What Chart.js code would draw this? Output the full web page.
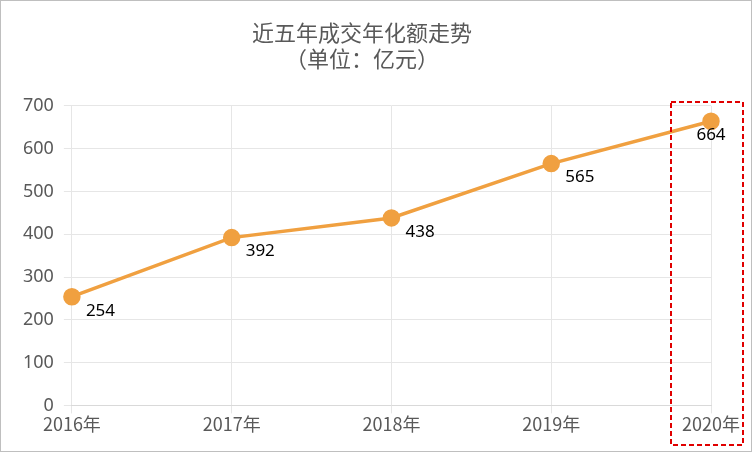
<!DOCTYPE html>
<html><head><meta charset="utf-8">
<script src="https://cdn.jsdelivr.net/npm/chart.js@4"></script>
<style>
body{margin:0;background:#fff}
#wrap{position:absolute;left:0;top:0;width:750px;height:450px;border:1px solid #bfbfbf}
</style></head>
<body><div id="wrap"><canvas id="c" width="750" height="450"></canvas></div>
<script>
const years = ["2016年", "2017年", "2018年", "2019年", "2020年"];
const values = [254, 392, 438, 565, 664];
const yTicks = [0, 100, 200, 300, 400, 500, 600, 700];

const labelPlugin = {
  id: "labels",
  afterDatasetsDraw(chart) {
    const ctx = chart.ctx;
    const meta = chart.getDatasetMeta(0);
    ctx.save();
    ctx.font = "17px 'Noto Sans', sans-serif";
    ctx.fillStyle = "#000";
    ctx.textBaseline = "middle";
    meta.data.forEach((p, i) => {
      const last = i === meta.data.length - 1;
      ctx.textAlign = last ? "center" : "left";
      ctx.fillText(values[i], last ? p.x : p.x + 14, p.y + 14);
    });
    const x = chart.scales.x.getPixelForValue(4);
    ctx.strokeStyle = "#e00000";
    ctx.lineWidth = 2;
    ctx.setLineDash([5, 3]);
    ctx.strokeRect(x - 40, 101, 72, 343);
    ctx.restore();
  }
};

new Chart(document.getElementById("c"), {
  type: "line",
  data: {
    labels: years,
    datasets: [{
      data: values,
      borderColor: "#f0a040",
      backgroundColor: "#f0a040",
      borderWidth: 3.5,
      pointRadius: 7,
      pointHoverRadius: 7,
      tension: 0
    }]
  },
  options: {
    responsive: false,
    animation: false,
    layout: { padding: { left: 12, right: 40, top: 4, bottom: 16 } },
    plugins: {
      legend: { display: false },
      tooltip: { enabled: false },
      title: {
        display: true,
        text: ["近五年成交年化额走势", "（单位：亿元）"],
        color: "#595959",
        font: { size: 22, family: "'Noto Sans CJK SC', sans-serif", weight: "normal", lineHeight: 1.2 },
        padding: { top: 14, bottom: 34 }
      }
    },
    scales: {
      x: {
        offset: false,
        grid: { color: "#e6e6e6" },
        border: { color: "#d9d9d9" },
        ticks: { color: "#595959", font: { size: 18, family: "'Noto Sans CJK SC', sans-serif" }, maxRotation: 0, padding: 0 }
      },
      y: {
        min: 0, max: 700,
        afterBuildTicks: s => { s.ticks = yTicks.map(v => ({ value: v })); },
        grid: { color: "#e6e6e6" },
        border: { display: false },
        ticks: { color: "#595959", font: { size: 18, family: "'Noto Sans', sans-serif" }, padding: 10 }
      }
    }
  },
  plugins: [labelPlugin]
});
</script></body></html>
